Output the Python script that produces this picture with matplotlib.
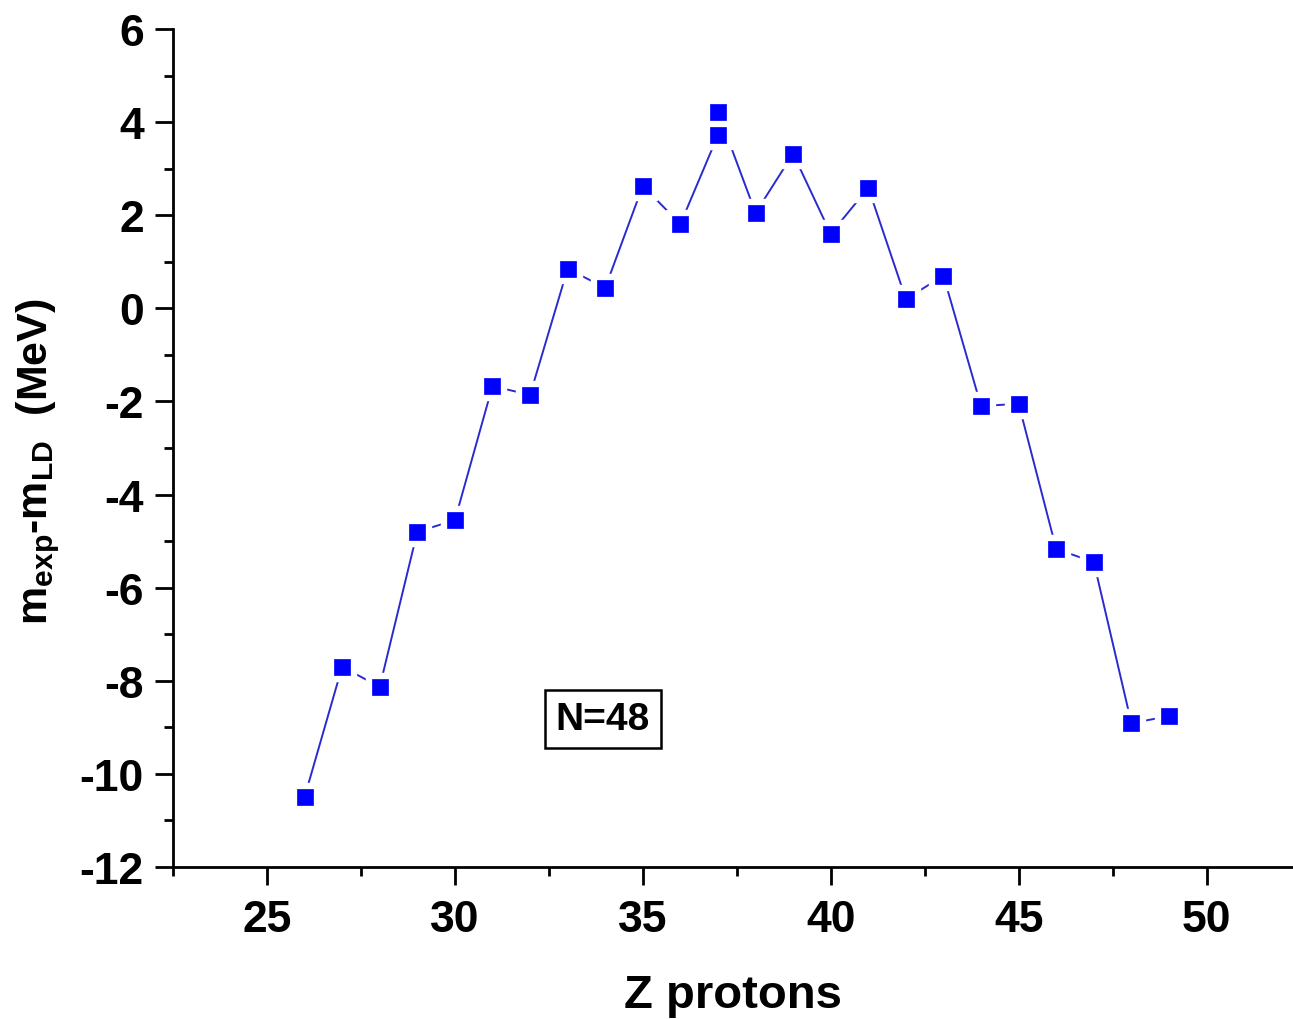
import matplotlib
matplotlib.use('Agg')
import matplotlib.pyplot as plt
from matplotlib.ticker import MultipleLocator

# Z protons and mass difference (MeV), N=48 isotones
z_protons = [26, 27, 28, 29, 30, 31, 32, 33, 34, 35, 36, 37, 37,
             38, 39, 40, 41, 42, 43, 44, 45, 46, 47, 48, 49]
delta_m = [-10.50, -7.70, -8.13, -4.80, -4.55, -1.67, -1.86, 0.85, 0.44,
           2.63, 1.81, 3.72, 4.22, 2.05, 3.32, 1.60, 2.59, 0.20, 0.70,
           -2.10, -2.05, -5.17, -5.45, -8.91, -8.76]
y_ticks = [-12, -10, -8, -6, -4, -2, 0, 2, 4, 6]
x_ticks = [25, 30, 35, 40, 45, 50]

plt.rcParams['font.family'] = ['Liberation Sans', 'DejaVu Sans']
plt.rcParams['font.weight'] = 'bold'
plt.rcParams['axes.unicode_minus'] = False
plt.rcParams['mathtext.fontset'] = 'custom'
plt.rcParams['mathtext.bf'] = 'Liberation Sans:bold'
plt.rcParams['mathtext.rm'] = 'Liberation Sans:bold'
plt.rcParams['mathtext.it'] = 'Liberation Sans:bold'
plt.rcParams['mathtext.default'] = 'bf'

fig = plt.figure(figsize=(12.93, 10.2), dpi=100)
ax = fig.add_axes([0.1338, 0.149, 0.8662, 0.8216])

# linea con huecos alrededor de los marcadores (estilo Origin)
ax.plot(z_protons, delta_m, color='#2a2ad0', lw=1.4, zorder=1)
ax.plot(z_protons, delta_m, ls='none', marker='s', ms=20, mfc='white',
        mec='white', zorder=2)
ax.plot(z_protons, delta_m, ls='none', marker='s', ms=12, mfc='#0000ff',
        mec='#0000ff', mew=0.5, zorder=3)

ax.set_xlim(22.5, 52.3)
ax.set_ylim(-12, 6)
ax.set_xticks(x_ticks)
ax.set_yticks(y_ticks)
ax.xaxis.set_minor_locator(MultipleLocator(2.5))
ax.yaxis.set_minor_locator(MultipleLocator(1))

ax.spines['top'].set_visible(False)
ax.spines['right'].set_visible(False)
for s in ['left', 'bottom']:
    ax.spines[s].set_linewidth(2.0)

ax.tick_params(which='major', direction='out', length=13, width=2.0,
               labelsize=32)
ax.tick_params(which='minor', direction='out', length=6.5, width=2.0)
ax.tick_params(axis='y', which='major', pad=8)
ax.tick_params(axis='x', which='major', pad=10)

ax.set_xlabel('Z protons', fontsize=34, fontweight='bold', labelpad=24)
ax.set_ylabel(r'$m_{exp}$-$m_{LD}$  (MeV)', fontsize=31, fontweight='bold')
ax.yaxis.set_label_coords(-0.099, 0.485)

ax.text(33.93, -8.82, 'N=48', fontsize=28, fontweight='bold',
        ha='center', va='center',
        bbox=dict(boxstyle='square,pad=0.28', fc='white', ec='black', lw=1.8))

fig.savefig('out.png', dpi=100)
